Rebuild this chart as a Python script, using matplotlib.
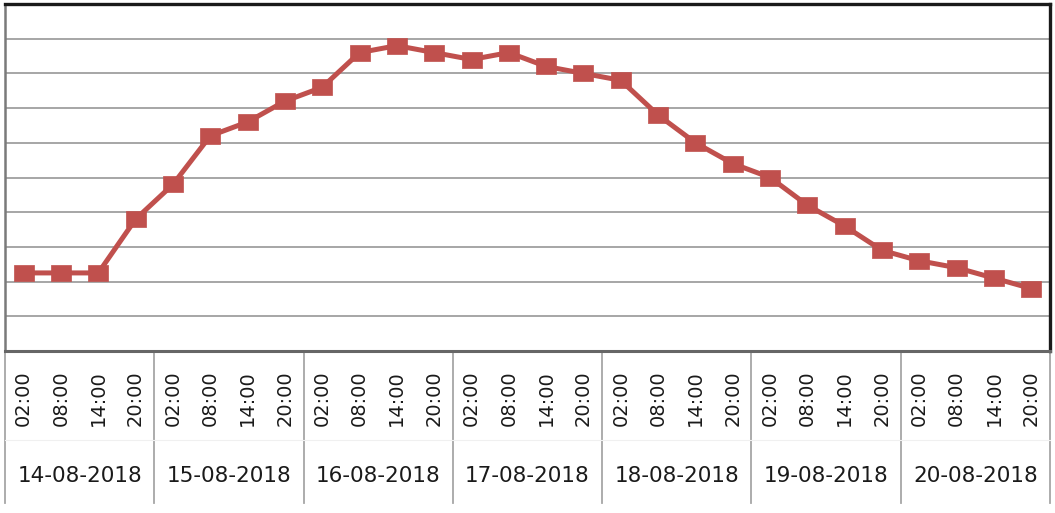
import matplotlib
matplotlib.use("Agg")
import matplotlib.pyplot as plt
from matplotlib.lines import Line2D

dates = ["14-08-2018", "15-08-2018", "16-08-2018", "17-08-2018",
         "18-08-2018", "19-08-2018", "20-08-2018"]
times = ["02:00", "08:00", "14:00", "20:00"]
values = [2.25, 2.25, 2.25, 3.8, 4.8, 6.2, 6.6, 7.2, 7.6, 8.6, 8.8, 8.6, 8.4, 8.6,
          8.2, 8.0, 7.8, 6.8, 6.0, 5.4, 5.0, 4.2, 3.6, 2.9, 2.6, 2.4, 2.1, 1.8]

W, H = 1055, 513
fig = plt.figure(figsize=(W / 100, H / 100), dpi=100)
fig.patch.set_facecolor("white")
ax = fig.add_axes([5 / W, 1 - 351 / H, 1045 / W, 347 / H])

rect_marker = [(-1.0, -0.84), (1.0, -0.84), (1.0, 0.84), (-1.0, 0.84), (-1.0, -0.84)]
x = list(range(len(values)))
ax.plot(x, values, color="#C0504D", lw=3.6, marker=rect_marker, markersize=14.5,
        markerfacecolor="#C0504D", markeredgecolor="#C0504D", markeredgewidth=0.5,
        zorder=3)

ax.set_xlim(-0.5, len(values) - 0.5)
ax.set_ylim(0, 10)
ax.set_yticks(range(1, 10))
ax.yaxis.grid(True, color="#A6A6A6", lw=1.4)
ax.set_axisbelow(True)
ax.set_xticks([])
ax.tick_params(axis="y", length=0, labelleft=False)

for s in ("top", "right"):
    ax.spines[s].set_color("#1a1a1a")
    ax.spines[s].set_linewidth(2.4)
ax.spines["left"].set_color("#7a7a7a")
ax.spines["left"].set_linewidth(1.8)
ax.spines["bottom"].set_color("#666666")
ax.spines["bottom"].set_linewidth(2.2)

trans = ax.get_xaxis_transform()
ybottom = -(503 - 351) / 347
nper = len(times)
for d in range(len(dates) + 1):
    xs = d * nper - 0.5
    ax.add_line(Line2D([xs, xs], [0, ybottom], transform=trans, color="#A6A6A6",
                       lw=1.3, clip_on=False))
ax.add_line(Line2D([-0.5, len(values) - 0.5], [-(440 - 351) / 347] * 2, transform=trans,
                   color="#F0F0F0", lw=0.8, clip_on=False))

ytime = -(398 - 351) / 347
ydate = -(476 - 351) / 347
for d, dl in enumerate(dates):
    for t, tl in enumerate(times):
        ax.text(d * nper + t, ytime, tl, transform=trans, rotation=90, ha="center",
                va="center", fontsize=14, color="#1a1a1a", family="DejaVu Sans")
    ax.text(d * nper + (nper - 1) / 2, ydate, dl, transform=trans, ha="center",
            va="center", fontsize=15.5, color="#1a1a1a", family="DejaVu Sans")

fig.savefig("out.png", dpi=100, facecolor="white")
